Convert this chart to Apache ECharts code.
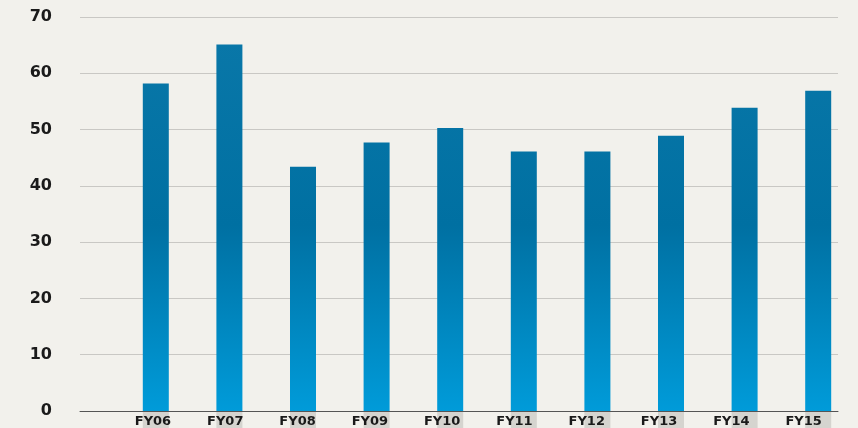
<!DOCTYPE html>
<html>
<head>
<meta charset="utf-8">
<script src="https://cdn.jsdelivr.net/npm/echarts@6/dist/echarts.min.js"></script>
<style>
  html, body { margin: 0; padding: 0; background: #f2f1ec; }
  #chart { width: 858px; height: 428px; }
</style>
</head>
<body>
<div id="chart"></div>
<script>
// 数据
const years = ['FY06', 'FY07', 'FY08', 'FY09', 'FY10', 'FY11', 'FY12', 'FY13', 'FY14', 'FY15'];
const values = [58.2, 65.1, 43.4, 47.7, 50.3, 46.1, 46.1, 48.9, 53.9, 56.9];
const labelBox = [-3, -3, -3, -3, -3, -3, -3, -3, -3, -3];
const yTicks = [0, 10, 20, 30, 40, 50, 60, 70];

const chart = echarts.init(document.querySelector('#chart'));

// 柱子渐变 (全局坐标)
const barColor = {
    type: 'linear',
    x: 0, y: 40, x2: 0, y2: 411,
    colorStops: [
        { offset: 0, color: '#0977a8' },
        { offset: 0.5, color: '#0070a2' },
        { offset: 1, color: '#009bd9' }
    ],
    global: true
};

chart.setOption({
    backgroundColor: '#f2f1ec',
    animation: false,
    grid: [
        // 网格线 + 轴线
        { left: 80, right: 20, top: 17, bottom: 17 },
        // 柱子
        { left: 119, right: 3, top: 17, bottom: 0 },
        // x 轴文字 (右对齐到柱子右边)
        { left: 135, right: -13, top: 17, bottom: 17 }
    ],
    xAxis: [
        {
            gridIndex: 0, type: 'category', data: years,
            axisLine: { lineStyle: { color: '#555', width: 1 } },
            axisTick: { show: false },
            axisLabel: { show: false },
            z: 5
        },
        {
            gridIndex: 1, type: 'category', data: years,
            axisLine: { show: true, onZero: true, lineStyle: { opacity: 0 } },
            axisTick: { show: false },
            axisLabel: { show: false }
        },
        {
            gridIndex: 2, type: 'category', data: years,
            axisLine: { show: false },
            axisTick: { show: false },
            axisLabel: {
                align: 'right',
                margin: 7,
                color: '#1a1a1a',
                fontSize: 13,
                fontWeight: 'bold',
                fontFamily: 'DejaVu Sans'
            },
            z: 10
        }
    ],
    yAxis: [
        {
            gridIndex: 0, type: 'value', min: 0, max: 70, interval: 10,
            axisLine: { show: false },
            axisTick: { show: false },
            axisLabel: {
                margin: 28,
                color: '#1a1a1a',
                fontSize: 16,
                fontWeight: 'bold',
                fontFamily: 'DejaVu Sans',
                formatter: v => yTicks.includes(v) ? String(v) : ''
            },
            splitLine: { lineStyle: { color: '#c9c8c4', width: 1 } }
        },
        {
            gridIndex: 1, type: 'value', min: -3, max: 70,
            show: false
        },
        {
            gridIndex: 2, type: 'value', min: 0, max: 70,
            show: false
        }
    ],
    series: [
        {
            name: 'labelBox',
            type: 'bar',
            xAxisIndex: 1,
            yAxisIndex: 1,
            barWidth: 26,
            barGap: '-100%',
            itemStyle: { color: '#d5d4cf' },
            data: labelBox,
            z: 1
        },
        {
            name: 'value',
            type: 'bar',
            xAxisIndex: 1,
            yAxisIndex: 1,
            barWidth: 26,
            barGap: '-100%',
            itemStyle: { color: barColor },
            data: values,
            z: 2
        }
    ]
});
</script>
</body>
</html>
